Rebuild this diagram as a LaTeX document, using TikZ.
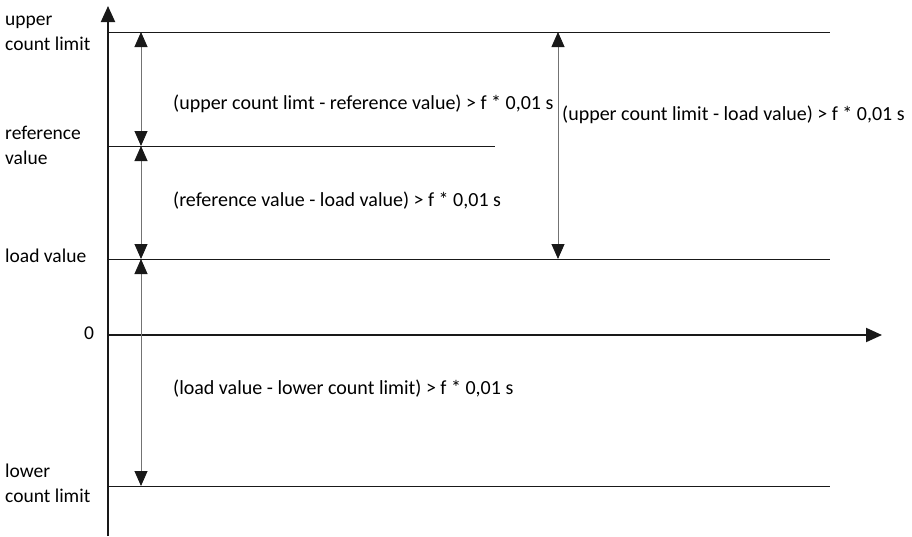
\documentclass[tikz,border=0pt]{standalone}
\usepackage{fontspec}
\setmainfont{Carlito}
\usetikzlibrary{arrows.meta}
\begin{document}
\begin{tikzpicture}[x=1pt,y=-1pt,
  axis/.style={line width=2pt,draw=black!90,-{Triangle[length=16pt,width=14pt,color=black!90]}},
  level/.style={line width=0.9pt,draw=black!90},
  dim/.style={line width=0.9pt,draw=black!55,{Triangle[length=15pt,width=13pt,color=black!90]}-{Triangle[length=15pt,width=13pt,color=black!90]}},
  lbl/.style={font=\fontsize{19.5}{25}\selectfont,inner sep=0pt,anchor=west,align=left},
  txt/.style={font=\fontsize{20}{24}\selectfont,inner sep=0pt,anchor=west}]
\useasboundingbox (0,0) rectangle (912,536);
% axes
\coordinate (o) at (108,335);
\coordinate (ybot) at (108,536);
\coordinate (ytop) at (108,6);
\coordinate (xend) at (882,335);
\draw[axis] (ybot) -- (ytop);
\draw[axis] (o) -- (xend);
% levels
\coordinate (u0) at (108,32);  \coordinate (u1) at (830,32);
\coordinate (r0) at (108,146); \coordinate (r1) at (495,146);
\coordinate (l0) at (108,259); \coordinate (l1) at (830,259);
\coordinate (w0) at (108,486); \coordinate (w1) at (830,486);
\draw[level] (u0) -- (u1);
\draw[level] (r0) -- (r1);
\draw[level] (l0) -- (l1);
\draw[level] (w0) -- (w1);
% dimension arrows
\coordinate (a1) at (141,32);
\coordinate (a2) at (141,146);
\coordinate (a3) at (141,259);
\coordinate (a4) at (141,486);
\coordinate (b1) at (558,32);
\coordinate (b2) at (558,259);
\draw[dim] (a1) -- (a2);
\draw[dim] (a2) -- (a3);
\draw[dim] (a3) -- (a4);
\draw[dim] (b1) -- (b2);
% axis labels
\node[lbl] (tu) at (5,33) {upper\\count limit};
\node[lbl] (tr) at (5,145) {reference\\value};
\node[lbl] (tl) at (5,256) {load value};
\node[lbl] (t0) at (84,333) {0};
\node[lbl] (tw) at (5,483) {lower\\count limit};
% formulas
\node[txt] (f1) at (173,104) {(upper count limt - reference value) > f * 0,01 s};
\node[txt] (f2) at (173,201) {(reference value - load value) > f * 0,01 s};
\node[txt] (f3) at (562,115) {(upper count limit - load value) > f * 0,01 s};
\node[txt] (f4) at (173,389) {(load value - lower count limit) > f * 0,01 s};
\end{tikzpicture}
\end{document}
